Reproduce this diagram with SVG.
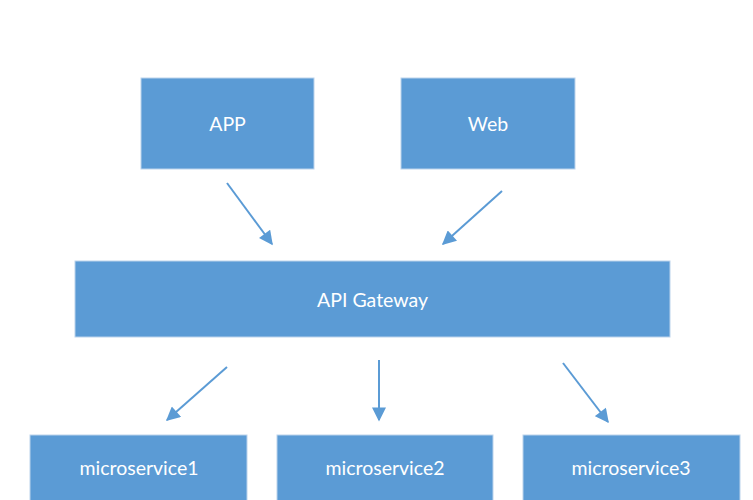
<svg xmlns="http://www.w3.org/2000/svg" width="753" height="500" viewBox="0 0 753 500">
<style>
.box{fill:#5b9bd5;stroke:#bcd3ec;stroke-width:1}
.lbl{font-family:Lato,"Open Sans","Liberation Sans",sans-serif;font-size:19.5px;fill:#ffffff;text-anchor:middle;dominant-baseline:central}
.conn{stroke:#5b9bd5;stroke-width:2;fill:none;marker-end:url(#ah)}
</style>
<defs>
<marker id="ah" viewBox="0 0 10 10" refX="9" refY="5" markerWidth="7.5" markerHeight="7" markerUnits="strokeWidth" orient="auto">
<path d="M0,0 L10,5 L0,10 z" fill="#5b9bd5"/>
</marker>
</defs>
<rect width="753" height="500" fill="#ffffff"/>
<g id="app"><rect class="box" x="141" y="78" width="173" height="91"/><text class="lbl" x="227.5" y="123.5">APP</text></g>
<g id="web"><rect class="box" x="401" y="78" width="174" height="91"/><text class="lbl" x="488" y="123.5">Web</text></g>
<g id="gateway"><rect class="box" x="75" y="261" width="595" height="76"/><text class="lbl" x="372.5" y="299">API Gateway</text></g>
<g id="ms1"><rect class="box" x="30" y="435" width="217" height="70"/><text class="lbl" x="139" y="467">microservice1</text></g>
<g id="ms2"><rect class="box" x="277" y="435" width="216" height="70"/><text class="lbl" x="385" y="467">microservice2</text></g>
<g id="ms3"><rect class="box" x="523" y="435" width="217" height="70"/><text class="lbl" x="631" y="467">microservice3</text></g>
<g id="connectors">
<line class="conn" x1="227" y1="183" x2="272" y2="244"/>
<line class="conn" x1="502" y1="191" x2="443" y2="244"/>
<line class="conn" x1="227" y1="367" x2="167" y2="420"/>
<line class="conn" x1="379" y1="360" x2="379" y2="420"/>
<line class="conn" x1="563" y1="363" x2="608" y2="422"/>
</g>
</svg>
